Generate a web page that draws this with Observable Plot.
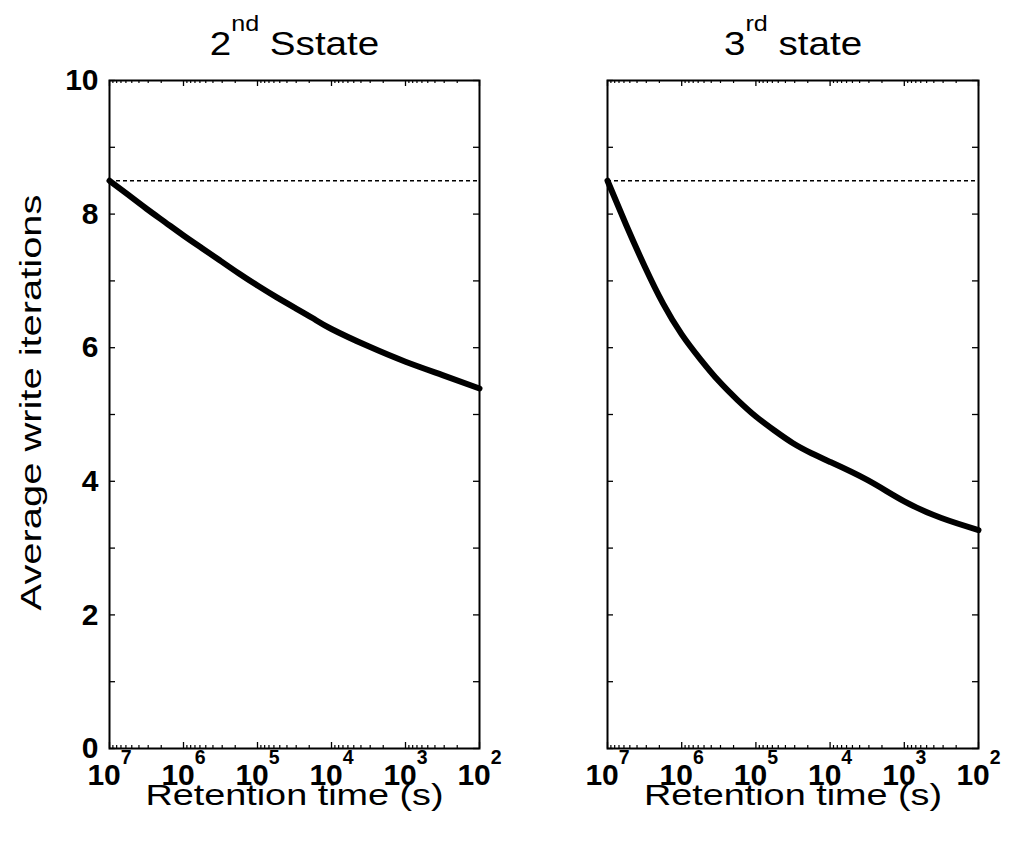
<!DOCTYPE html>
<html><head><meta charset="utf-8">
<script src="https://cdn.jsdelivr.net/npm/d3@7"></script>
<script src="https://cdn.jsdelivr.net/npm/@observablehq/plot@0.6"></script>
<style>
body{margin:0;background:#fff;}
#wrap{position:relative;width:1011px;height:854px;overflow:hidden;}
#wrap svg{position:absolute;top:0;}
</style></head><body><div id="wrap"></div>
<script>
// ---- data ----
const retentionTime = [1e7, 5.62e6, 3.16e6, 1.78e6, 1e6, 5.62e5, 3.16e5, 1.78e5, 1e5, 5.62e4, 3.16e4, 1.78e4, 1e4, 3.16e3, 1e3, 316, 100];
const state2Iterations = [8.50, 8.29, 8.08, 7.88, 7.68, 7.49, 7.30, 7.11, 6.93, 6.76, 6.60, 6.44, 6.28, 6.02, 5.79, 5.59, 5.39];
const state3Iterations = [8.50, 7.84, 7.22, 6.66, 6.20, 5.83, 5.50, 5.22, 4.97, 4.76, 4.57, 4.42, 4.29, 4.02, 3.70, 3.45, 3.27];
const targetIterations = [8.5];
const panelTitles = ["2^{nd} Sstate", "3^{rd} state"];
const xTickValues = [1e7, 1e6, 1e5, 1e4, 1e3, 1e2];
const xTickLabels = ["10^{7}", "10^{6}", "10^{5}", "10^{4}", "10^{3}", "10^{2}"];
const yTickValues = [0,1,2,3,4,5,6,7,8,9,10];
const yLabelValues = [0,2,4,6,8,10];
const xTitle = "Retention time (s)";
const yTitle = "Average write iterations";

// minor log ticks (2..9 x 10^k)
const xMinorTicks = [];
for (let k = 2; k < 7; k++) for (let m = 2; m <= 9; m++) xMinorTicks.push(m * 10 ** k);

const FONT = "'Liberation Sans', Arial, Helvetica, sans-serif";
const H = 854, MT = 80, MB = 106;
const TICK_FS = 30, LABEL_FS = 30, TITLE_FS = 33;
// horizontal stretch of the label / title glyphs (reference text is wide)
const stretch = new Map([[xTitle, 1.26], [yTitle, 1.33], [panelTitles[0], 1.17], [panelTitles[1], 1.17]]);

function panel({title, values, width, ml, mr, showY}) {
  const iw = width - ml - mr, ih = H - MT - MB;
  const data = retentionTime.map((t, i) => ({t, v: values[i]}));
  const ticks = xTickValues.map((v, i) => ({v, label: xTickLabels[i]}));
  return Plot.plot({
    width, height: H,
    marginLeft: ml, marginRight: mr, marginTop: MT, marginBottom: MB,
    x: {type: "log", domain: [1e7, 1e2], axis: null},
    y: {domain: [0, 10], axis: null},
    style: {fontFamily: FONT, background: "transparent", overflow: "visible", color: "black"},
    marks: [
      Plot.ruleY(targetIterations, {stroke: "black", strokeWidth: 1.5, strokeDasharray: "4,3"}),
      Plot.line(data, {x: "t", y: "v", stroke: "black", strokeWidth: 6, curve: "natural"}),
      Plot.tickX(xTickValues, {x: d => d, insetTop: ih - 6, stroke: "black", strokeWidth: 1.3}),
      Plot.tickX(xTickValues, {x: d => d, insetBottom: ih - 6, stroke: "black", strokeWidth: 1.3}),
      Plot.tickX(xMinorTicks, {x: d => d, insetTop: ih - 3, stroke: "black", strokeWidth: 1.2}),
      Plot.tickX(xMinorTicks, {x: d => d, insetBottom: ih - 3, stroke: "black", strokeWidth: 1.2}),
      Plot.tickY(yTickValues, {y: d => d, insetRight: iw - 6, stroke: "black", strokeWidth: 1.3}),
      Plot.tickY(yTickValues, {y: d => d, insetLeft: iw - 6, stroke: "black", strokeWidth: 1.3}),
      Plot.frame({stroke: "black", strokeWidth: 2}),
      Plot.text(ticks, {x: "v", text: "label", frameAnchor: "bottom", lineAnchor: "middle", textAnchor: "middle", dy: 27, fontSize: TICK_FS, fontWeight: "bold", fill: "black"}),
      showY ? Plot.text(yLabelValues, {y: d => d, text: d => String(d), frameAnchor: "left", lineAnchor: "middle", dx: -11, textAnchor: "end", fontSize: TICK_FS, fontWeight: "bold", fill: "black"}) : null,
      Plot.text([xTitle], {frameAnchor: "bottom", lineAnchor: "middle", textAnchor: "middle", dy: 47, fontSize: LABEL_FS, fill: "black"}),
      showY ? Plot.text([yTitle], {frameAnchor: "left", lineAnchor: "middle", textAnchor: "middle", rotate: -90, dx: -78, dy: -12, fontSize: LABEL_FS, fill: "black"}) : null,
      Plot.text([title], {frameAnchor: "top", lineAnchor: "middle", textAnchor: "middle", dy: -36, fontSize: TITLE_FS, fill: "black"})
    ]
  });
}

function postprocess(svg) {
  d3.select(svg).selectAll("text").each(function() {
    const s = this.textContent;
    const el = d3.select(this);
    if (stretch.has(s)) {
      const t = el.attr("transform") || "";
      el.attr("transform", t + ` scale(${stretch.get(s)},1)`);
    }
    const m = s.match(/^(.*?)\^\{(.*?)\}(.*)$/);
    if (!m) return;
    el.text(null);
    el.append("tspan").text(m[1]);
    el.append("tspan").attr("font-size", "0.65em").attr("dy", "-1.1em").text(m[2]);
    if (m[3]) el.append("tspan").attr("dy", "0.715em").text(m[3]);
  });
}

const wrap = document.getElementById("wrap");
const p1 = panel({title: panelTitles[0], values: state2Iterations, width: 500, ml: 109, mr: 21, showY: true});
const p2 = panel({title: panelTitles[1], values: state3Iterations, width: 511, ml: 107, mr: 33, showY: false});
p1.style.left = "0px";
p2.style.left = "500px";
postprocess(p1); postprocess(p2);
wrap.appendChild(p1);
wrap.appendChild(p2);
</script></body></html>
